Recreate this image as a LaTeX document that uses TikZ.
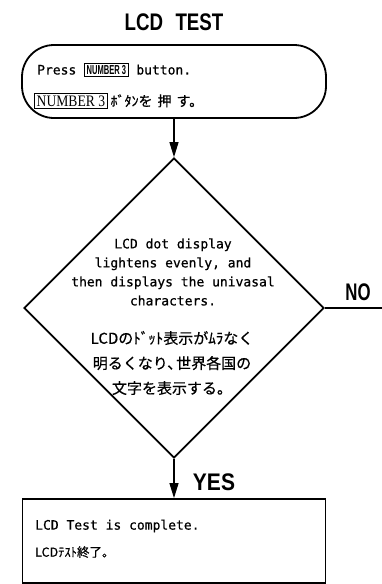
\documentclass[tikz,border=0pt]{standalone}
\usepackage{fontspec}
\usepackage{graphicx}
\usetikzlibrary{shapes.geometric,arrows.meta}
\newfontfamily\monof[FakeBold=0.6]{DejaVu Sans Mono}
\newfontfamily\helf{Liberation Sans}
\newfontfamily\timf{Liberation Serif}
\newfontfamily\jpf[FakeBold=0.5]{Noto Sans CJK JP}
\newcommand\keyA{{\setlength\fboxsep{1.5pt}\setlength\fboxrule{1pt}\fbox{\helf\bfseries\fontsize{13}{13}\selectfont\scalebox{0.58}[1]{NUMBER 3}}}}
\newcommand\keyB{{\setlength\fboxsep{1.5pt}\setlength\fboxrule{1pt}\fbox{\timf\fontsize{16}{16}\selectfont\scalebox{0.85}[1]{NUMBER 3}}}}
\tikzset{
  boxline/.style={draw, line width=1.8pt, inner sep=0},
  arr/.style={line width=1.2pt, -{Triangle[length=15pt,width=9pt]}},
  lbl/.style={font=\helf\bfseries\fontsize{24}{24}\selectfont, inner sep=0},
  mtext/.style={font=\monof\fontsize{13}{19}\selectfont, inner sep=0},
  jtext/.style={font=\jpf\fontsize{15}{25}\selectfont, inner sep=0},
}
\begin{document}
\begin{tikzpicture}[x=1pt, y=-1pt]
\useasboundingbox (0,0) rectangle (382,584);
% shapes
\node[boxline, rounded corners=32pt, minimum width=304pt, minimum height=73pt] (start) at (174,81.5) {};
\node[draw, diamond, line width=1.7pt, minimum width=300pt, minimum height=300pt, inner sep=0] (dec) at (174,308) {};
\node[boxline, minimum width=303pt, minimum height=84pt] (end) at (174,541) {};
\coordinate (noend) at (382,308);
% connectors
\draw[arr] (start.south) -- (dec.north);
\draw[arr] (dec.south) -- (end.north);
\draw[line width=1.2pt] (dec.east) -- (noend);
% labels
\node[lbl] (title) at (174,22) {\scalebox{0.78}[1]{LCD\hspace{16pt}TEST}};
\node[lbl] (yes) at (214,482) {\scalebox{0.875}[1]{YES}};
\node[lbl] (no) at (358,292) {\scalebox{0.7}[1]{NO}};
% texts
\node[mtext, anchor=west] (l1) at (37,70) {Press \keyA{} button.};
\node[anchor=west, inner sep=0] (l2) at (34,101) {\keyB\kern3pt{\jpf\fontsize{14}{14}\selectfont ﾎﾞﾀﾝを\kern5pt押\kern5ptす。}};
\node[mtext, align=center] (d1) at (173,272) {LCD dot display\\lightens evenly, and\\then displays the univasal\\characters.};
\node[jtext, align=center] (d2) at (172,363) {LCDのﾄﾞｯﾄ表示がﾑﾗなく\\明るくなり、\kern-6pt世界各国の\\文字を表示する。};
\node[mtext, anchor=west] (e1) at (35,526) {LCD Test is complete.};
\node[anchor=west, inner sep=0, font=\jpf\fontsize{12.5}{12.5}\selectfont] (e2) at (35,552) {LCDﾃｽﾄ終了。};
\end{tikzpicture}
\end{document}
